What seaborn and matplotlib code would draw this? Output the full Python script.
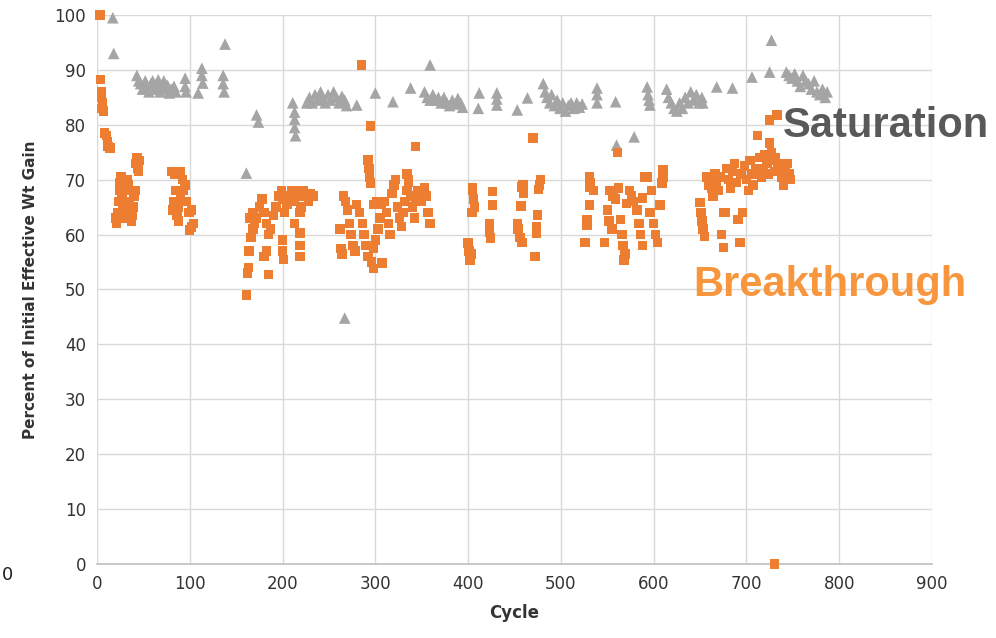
import matplotlib
matplotlib.use("Agg")
import matplotlib.pyplot as plt
import seaborn as sns
import pandas as pd

# Saturation series (grey triangles): cycle, percent of initial effective weight gain
sat_cycle = [17, 18,
             43, 45, 47, 49, 52, 54, 56, 58, 60, 62, 64, 66, 68, 70, 72, 74, 76, 78, 80, 83, 85,
             95, 95, 96, 109, 113, 113, 114, 136, 136, 137, 138,
             161, 172, 174,
             211, 213, 213, 213, 214,
             226, 229, 232, 235, 238, 241, 243, 246, 249, 252, 255, 258, 261, 264, 267, 269,
             267, 280, 300, 319, 338, 359,
             353, 356, 359, 362, 365, 368, 371, 374, 377, 380, 383, 386, 389, 392, 394,
             412, 411, 431, 431, 431, 453, 464,
             481, 483, 485, 488, 490, 493, 496, 499, 502, 505, 508, 511, 514, 517, 520, 523,
             539, 539, 539, 559, 560, 579, 593, 594, 595, 596,
             614, 616, 619, 622, 625, 628, 631, 634, 637, 640, 643, 646, 649, 652, 653,
             668, 685, 706, 725, 727,
             743, 746, 749, 752, 755, 758, 761, 764, 767, 770, 773, 776, 779, 782, 785, 787]
sat_pct = [99.5, 93.0,
           89.0, 88.0, 87.5, 86.5, 88.0, 87.0, 86.0, 87.5, 88.0, 86.5, 87.0, 88.2, 86.0, 87.0, 88.0, 86.5, 87.2, 85.8, 86.5, 87.0, 86.0,
           88.5, 87.0, 86.0, 85.8, 90.3, 89.0, 87.6, 89.0, 87.5, 86.0, 94.7,
           71.2, 81.8, 80.5,
           84.0, 82.3, 81.0, 79.5, 78.0,
           84.0, 85.0, 84.0, 85.5, 84.5, 86.0, 85.0, 84.0, 85.5, 84.5, 86.0, 85.0, 84.0, 85.2, 84.5, 83.5,
           44.8, 83.6, 85.8, 84.2, 86.7, 90.9,
           86.0, 85.0, 84.5, 85.5, 84.5, 85.0, 84.0, 85.0, 84.0, 83.5, 84.5, 83.8, 84.8, 84.0, 83.2,
           85.8, 83.0, 85.8, 84.7, 83.6, 82.7, 84.9,
           87.5, 86.0, 85.0, 84.0, 85.5, 83.5, 84.5, 83.0, 84.0, 82.5, 83.5, 84.0, 83.0, 84.0, 83.2, 83.8,
           86.7, 85.5, 84.0, 84.2, 76.3, 77.8, 86.9, 85.5, 84.5, 83.6,
           86.5, 85.0, 84.0, 83.0, 82.5, 84.0, 83.0, 85.0, 84.0, 86.0, 84.5, 85.5, 84.0, 85.0, 84.0,
           86.9, 86.7, 88.7, 89.6, 95.4,
           89.6, 89.0, 88.5, 89.3, 88.0, 87.0, 89.0, 88.0, 87.5, 86.5, 88.0, 86.0, 85.5, 86.5, 85.0, 86.0]

# Breakthrough series (orange squares)
bt_cycle = [3, 4, 5, 5, 6, 5, 7, 8, 10, 11, 12, 14,
            20, 21, 22, 23, 24, 25, 26, 27, 28, 29, 30, 31, 32, 33, 34, 35, 36, 37, 38, 39, 40, 41, 42, 43, 44, 45, 46,
            81, 84, 90, 92, 85, 83, 82, 86, 88, 90, 93, 95, 96, 99, 102, 104, 102, 100, 88,
            161, 162, 163, 164, 166, 170, 168, 172, 175, 178, 180, 183, 185, 187, 183, 180, 185, 190, 193, 196, 199,
            200, 202, 205, 208, 210, 213, 215, 218, 220, 222, 225, 228, 230, 233, 200, 200, 201, 219, 219, 219, 219,
            213, 165, 168,
            285, 295, 292, 293, 294, 295, 262, 263, 264, 266, 268, 270, 272, 274, 276, 278, 280, 283, 286, 288, 290,
            292, 296, 298, 300, 303, 305, 298, 302, 306, 310, 312, 314, 316, 318, 320, 322, 324, 326, 328, 330, 332,
            334, 336, 338, 340, 342, 344, 346, 348, 343, 334, 336, 350, 353, 355, 357, 359, 307, 298,
            400, 401, 402, 403, 405, 406, 407, 404, 426, 426, 423, 423, 424, 405,
            453, 454, 456, 458, 457, 458, 459, 460, 470, 472, 474, 475, 477, 478, 476, 474,
            526, 528, 528, 531, 531, 531, 532, 535, 547, 550, 552, 555, 553, 556, 559, 562, 564, 566, 567, 569, 568,
            571, 574, 576, 578, 561, 582, 584, 586, 588, 588, 590, 593, 596, 598, 600, 602, 604, 607, 610, 610, 609,
            650, 651, 652, 653, 655, 657, 659, 661, 663, 664, 666, 668, 670, 672, 673, 675, 675, 677, 679, 681, 683,
            685, 687, 689, 691, 693, 694, 696, 698, 700, 702, 704, 706, 707, 710, 712, 714, 716, 718, 720, 722, 724,
            725, 725, 727, 729, 730, 731, 733, 734, 736, 738, 740, 742, 744, 746, 747,
            730]
bt_pct = [100.0, 88.3, 86.0, 85.0, 84.0, 83.0, 82.5, 78.5, 78.0, 77.0, 76.0, 75.8,
          63.0, 62.0, 64.0, 66.0, 68.0, 69.5, 70.5, 67.0, 65.0, 63.0, 64.0, 66.0, 68.0, 70.0, 69.0, 66.0, 64.0, 62.5, 63.5, 65.0, 67.0, 68.0, 73.0, 74.0, 72.0, 71.5, 73.5,
          71.5, 71.0, 71.5, 70.0, 68.0, 66.0, 64.5, 63.5, 65.0, 66.5, 68.0, 69.0, 66.0, 64.0, 64.5, 62.0, 61.4, 60.8, 62.5,
          49.0, 53.0, 54.0, 57.0, 59.5, 62.0, 64.0, 63.0, 65.0, 66.5, 64.0, 62.0, 60.0, 61.0, 57.0, 56.0, 52.7, 63.5, 65.0, 67.0, 68.0,
          66.5, 64.0, 65.5, 67.0, 68.0, 66.0, 68.0, 67.0, 65.0, 68.0, 67.0, 66.0, 67.5, 67.0, 59.0, 57.0, 55.5, 60.3, 58.0, 56.0, 64.0,
          62.0, 63.0, 61.0,
          90.9, 79.8, 73.6, 72.0, 70.5, 69.4, 61.0, 57.5, 56.5, 67.0, 66.0, 64.5, 62.0, 60.0, 58.0, 57.0, 65.5, 64.0, 62.0, 60.0, 58.0,
          56.0, 55.0, 57.5, 59.0, 61.0, 63.0, 65.5, 66.0, 65.5, 66.0, 64.0, 62.0, 60.0, 67.5, 69.0, 70.0, 65.0, 63.0, 61.5, 64.0, 66.0,
          68.0, 70.0, 67.0, 65.0, 63.0, 66.5, 68.0, 67.0, 76.0, 71.0, 69.5, 66.0, 68.5, 67.0, 64.0, 62.0, 54.8, 53.8,
          58.5, 57.0, 55.4, 56.5, 68.0, 66.5, 65.0, 64.0, 67.8, 65.4, 62.0, 60.5, 59.4, 68.5,
          62.0, 61.0, 59.5, 58.6, 65.2, 68.7, 69.0, 67.5, 77.6, 56.0, 60.3, 63.6, 69.0, 70.0, 68.2, 61.5,
          58.6, 62.7, 61.7, 65.4, 70.5, 68.7, 69.5, 68.0, 58.6, 64.5, 62.5, 61.0, 68.0, 67.0, 66.5, 68.5, 62.7, 60.0, 58.0, 56.5, 55.4,
          65.7, 68.0, 67.0, 66.0, 75.0, 64.5, 62.0, 60.0, 58.0, 66.7, 70.5, 70.5, 64.0, 68.0, 62.0, 60.0, 58.6, 65.4, 71.8, 70.5, 69.4,
          65.8, 64.0, 62.5, 61.0, 59.6, 70.5, 69.0, 70.0, 68.5, 67.0, 71.0, 69.5, 68.0, 70.5, 60.0, 57.6, 64.0, 64.0, 72.0, 70.0, 68.5,
          71.5, 73.0, 69.5, 62.7, 58.6, 71.0, 64.0, 72.5, 70.0, 68.0, 73.5, 71.0, 69.0, 72.0, 78.0, 74.0, 70.5, 72.0, 74.5, 73.0, 71.0,
          76.7, 80.9, 75.0, 73.5, 71.5, 74.0, 81.8, 72.0, 73.0, 70.5, 69.0, 72.0, 73.0, 71.0, 70.0,
          0.0]

x_ticks = [0, 100, 200, 300, 400, 500, 600, 700, 800, 900]
y_ticks = [0, 10, 20, 30, 40, 50, 60, 70, 80, 90, 100]

sat_df = pd.DataFrame({"Cycle": sat_cycle, "Percent": sat_pct})
bt_df = pd.DataFrame({"Cycle": bt_cycle, "Percent": bt_pct})

sns.set_style("white")
plt.rcParams["font.family"] = ["DejaVu Sans"]

fig = plt.figure(figsize=(9.96, 6.38), dpi=100)
ax = fig.add_axes([0.0974, 0.116, 0.8383, 0.8605])

sns.scatterplot(data=sat_df, x="Cycle", y="Percent", marker="^", s=70,
                color="#A5A5A5", edgecolor="none", linewidth=0, ax=ax, zorder=3,
                clip_on=False)
sns.scatterplot(data=bt_df, x="Cycle", y="Percent", marker="s", s=46,
                color="#ED7D31", edgecolor="none", linewidth=0, ax=ax, zorder=4,
                clip_on=False)

ax.set_xlim(0, 900)
ax.set_ylim(0, 100)
ax.set_xticks(x_ticks)
ax.set_yticks(y_ticks)
ax.tick_params(axis="both", length=0, labelsize=12, colors="#333333", pad=8)
ax.grid(True, color="#D9D9D9", linewidth=1.0, zorder=0)
ax.set_axisbelow(True)
for side in ["top", "right", "left"]:
    ax.spines[side].set_visible(False)
ax.spines["bottom"].set_color("#BFBFBF")
ax.spines["bottom"].set_linewidth(1.2)

ax.set_xlabel("Cycle", fontsize=12, fontweight="bold", color="#333333", labelpad=8)
ax.set_ylabel("Percent of Initial Effective Wt Gain", fontsize=11, fontweight="bold",
              color="#333333", labelpad=12)

# Series annotations
ax.text(739, 79.8, "Saturation", fontsize=30, fontweight="bold", color="#595959",
        family=["Liberation Sans", "DejaVu Sans"], va="center", ha="left")
ax.text(643, 50.8, "Breakthrough", fontsize=30, fontweight="bold", color="#F7963C",
        family=["Liberation Sans", "DejaVu Sans"], va="center", ha="left")

fig.text(0.002, 0.099, "0", fontsize=13, color="#202020", va="center", ha="left")

fig.savefig("out.png", dpi=100)
